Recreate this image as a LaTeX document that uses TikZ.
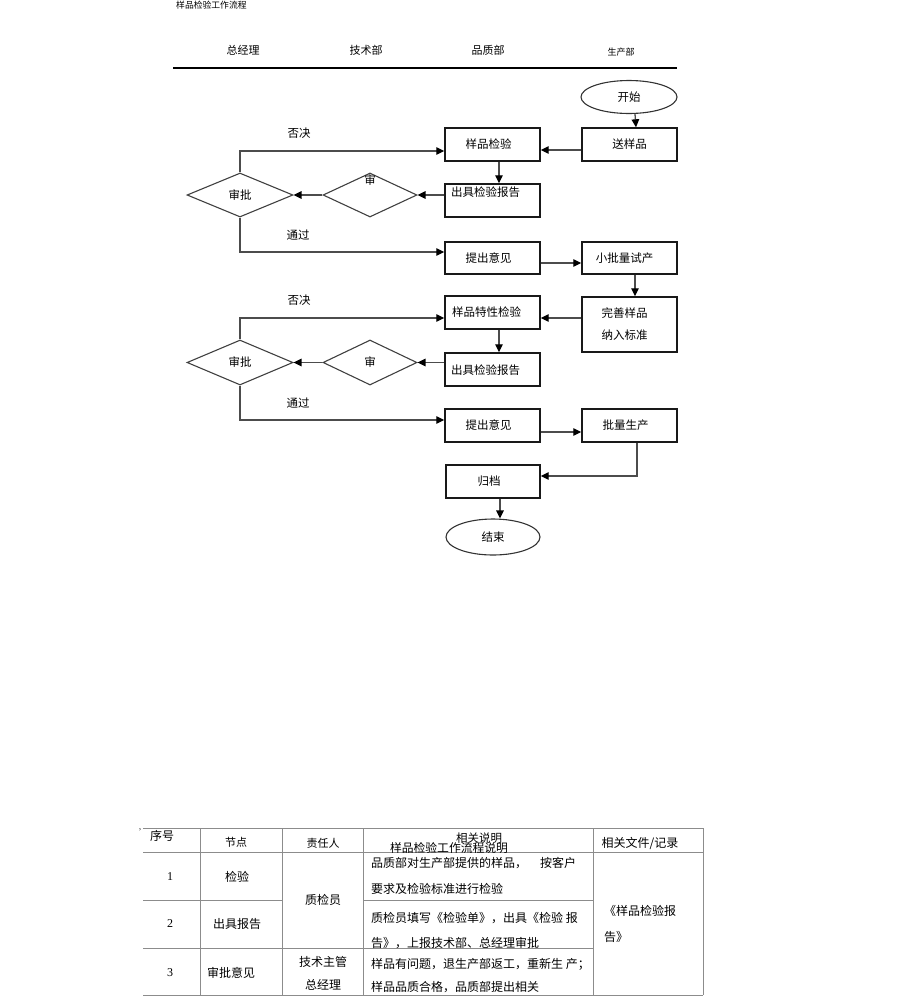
\documentclass[tikz,border=0pt]{standalone}
\usepackage{fontspec}
\setmainfont{Noto Sans CJK SC}
\newfontfamily\serifdig{Liberation Serif}
\usetikzlibrary{shapes.geometric,arrows.meta}
\begin{document}
\begin{tikzpicture}[x=1pt,y=-1pt,
  fl/.style={font=\fontsize{11.5}{13}\selectfont},
  box/.style={draw=black!90, line width=1.4pt, rectangle, minimum width=95pt, minimum height=33pt, inner sep=0pt, fl},
  oval/.style={draw=black!80, line width=1.1pt, ellipse, minimum width=95pt, minimum height=34pt, inner sep=0pt, fl},
  dia/.style={draw=black!75, line width=1.1pt, diamond, inner sep=0pt, fl},
  conn/.style={draw=black!70, line width=1.3pt, -{Triangle[length=8pt,width=7.5pt,color=black]}},
  lbl/.style={fl, inner sep=0pt},
  hdr/.style={font=\fontsize{11}{13}\selectfont, inner sep=0pt},
  tb/.style={font=\fontsize{12}{14}\selectfont, inner sep=0pt},
  tl/.style={draw=black!45, line width=0.8pt}
]
\useasboundingbox (0,0) rectangle (920,997);
% title and header
\node[font=\fontsize{8.8}{10}\selectfont, anchor=west, inner sep=0pt] (title) at (176,5) {样品检验工作流程};
\node[hdr] (h1) at (243,50) {总经理};
\node[hdr] (h2) at (366,50) {技术部};
\node[hdr] (h3) at (488,50) {品质部};
\node[font=\fontsize{9}{10}\selectfont, inner sep=0pt] (h4) at (621,52) {生产部};
\draw[line width=2.2pt] (173,68) -- (677,68);

% flow nodes
\node[oval, minimum width=96pt, minimum height=33pt] (start) at (629,97) {开始};
\node[box] (send) at (629.5,144.5) {送样品};
\node[box] (insp) at (492.5,144.5) {\hspace*{-8pt}样品检验};
\node[box] (rep1) at (492.5,200.5) {};
\node[lbl, anchor=west] (rep1t) at (451,192) {出具检验报告};
\node[dia, minimum width=94pt, minimum height=44pt] (dia1) at (370,195) {};
\node[lbl] (dia1t) at (370,180) {审};
\node[dia, minimum width=106pt, minimum height=44pt] (appr1) at (240,195) {审批};
\node[box, minimum height=32pt] (opin1) at (492.5,258) {\hspace*{-8pt}提出意见};
\node[box, minimum height=32pt] (trial) at (629.5,258) {\hspace*{-10pt}小批量试产};
\node[box, minimum height=55pt, align=left, font=\fontsize{11.5}{22}\selectfont] (perf) at (629.5,324.5) {\hspace*{-10pt}完善样品\\\hspace*{-10pt}纳入标准};
\node[box] (insp2) at (492.5,312.5) {\hspace*{-12pt}样品特性检验};
\node[box] (rep2) at (492.5,369.5) {};
\node[lbl, anchor=west] (rep2t) at (451,370) {出具检验报告};
\node[dia, minimum width=94pt, minimum height=45pt] (dia2) at (370,362.5) {审};
\node[dia, minimum width=106pt, minimum height=45pt] (appr2) at (240,362.5) {审批};
\node[box] (opin2) at (492.5,425.5) {\hspace*{-8pt}提出意见};
\node[box] (mass) at (629.5,425.5) {\hspace*{-8pt}批量生产};
\node[box, minimum width=94pt] (arch) at (493,481.5) {\hspace*{-8pt}归档};
\node[oval, minimum width=94pt, minimum height=36pt] (fin) at (493,537) {结束};

% edge labels
\node[lbl] (r1) at (299,133) {否决};
\node[lbl] (p1) at (298,235) {通过};
\node[lbl] (r2) at (299,300) {否决};
\node[lbl] (p2) at (298,403) {通过};

% connectors
\draw[conn] ([xshift=6pt]start.south) -- ([xshift=6.5pt]send.north);
\draw[conn] ([yshift=-5.5pt]send.west) -- ([yshift=-5.5pt]insp.east);
\draw[conn] ([xshift=6.5pt]insp.south) -- ([xshift=6.5pt]rep1.north);
\draw[conn] (rep1.west |- dia1.east) -- (dia1.east);
\draw[conn] (dia1.west) -- (appr1.east);
\draw[conn] (appr1.north) |- ([yshift=-6.5pt]insp.west);
\draw[conn] (appr1.south) |- ([yshift=6pt]opin1.west);
\draw[conn] ([yshift=-5pt]opin1.east) -- ([yshift=-5pt]trial.west);
\draw[conn] ([xshift=5.5pt]trial.south) -- ([xshift=5.5pt]perf.north);
\coordinate (c1) at ([yshift=-5.5pt]insp2.east);
\draw[conn] (perf.west |- c1) -- (c1);
\draw[conn] ([xshift=6.5pt]insp2.south) -- ([xshift=6.5pt]rep2.north);
\draw[conn] (rep2.west |- dia2.east) -- (dia2.east);
\draw[conn] (dia2.west) -- (appr2.east);
\draw[conn] (appr2.north) |- ([yshift=-5.5pt]insp2.west);
\draw[conn] (appr2.south) |- ([yshift=5.5pt]opin2.west);
\draw[conn] ([yshift=-6.5pt]opin2.east) -- ([yshift=-6.5pt]mass.west);
\draw[conn] ([xshift=7.5pt]mass.south) |- ([yshift=5.5pt]arch.east);
\draw[conn] ([xshift=7pt]arch.south) -- ([xshift=7pt]fin.north);

% table lines
\draw[tl] (143,828) -- (703,828);
\draw[tl] (143,852) -- (703,852);
\draw[tl] (143,900) -- (282,900);
\draw[tl] (363,900) -- (593,900);
\draw[tl] (143,948) -- (593,948);
\draw[tl] (143,995) -- (703,995);
\draw[tl] (200,828) -- (200,995);
\draw[tl] (282,828) -- (282,995);
\draw[tl] (363,828) -- (363,995);
\draw[tl] (593,828) -- (593,995);
\draw[tl] (703,828) -- (703,995);

% table text
\node[tb, font=\fontsize{8}{9}\selectfont] (q) at (143,832) {'};
\node[tb] (t0) at (162,836) {序号};
\node[tb, font=\fontsize{11}{13}\selectfont] (t1) at (236,842) {节点};
\node[tb, font=\fontsize{11}{13}\selectfont] (t2) at (323,843) {责任人};
\node[tb, font=\fontsize{11.5}{13}\selectfont] (t3) at (479,838) {相关说明};
\node[tb, font=\fontsize{11.8}{13}\selectfont] (t3b) at (449,848) {样品检验工作流程说明};
\node[tb] (t4) at (640,843) {相关文件/记录};

\node[tb, font=\serifdig\fontsize{12}{14}\selectfont] (n1) at (170,877) {1};
\node[tb, font=\serifdig\fontsize{12}{14}\selectfont] (n2) at (170,924) {2};
\node[tb, font=\serifdig\fontsize{12}{14}\selectfont] (n3) at (170,973) {3};
\node[tb] (k1) at (237,877) {检验};
\node[tb] (k2) at (237,924) {出具报告};
\node[tb] (k3) at (231,973) {审批意见};
\node[tb] (w1) at (323,900) {质检员};
\node[tb] (w2) at (323,962) {技术主管};
\node[tb] (w3) at (323,985) {总经理};

\node[tb, anchor=west] (d1a) at (371,863) {品质部对生产部提供的样品，};
\node[tb, anchor=west] (d1b) at (540,863) {按客户};
\node[tb, anchor=west] (d1c) at (371,889) {要求及检验标准进行检验};
\node[tb, anchor=west] (d2a) at (371,918) {质检员填写《检验单》，出具《检验 报};
\node[tb, anchor=west] (d2b) at (371,943) {告》，上报技术部、总经理审批};
\node[tb, anchor=west] (d3a) at (371,964) {样品有问题，退生产部返工，重新生 产；};
\node[tb, anchor=west] (d3b) at (371,987) {样品品质合格，品质部提出相关};
\node[tb, anchor=west] (f1) at (604,911) {《样品检验报};
\node[tb, anchor=west] (f2) at (604,937) {告》};
\end{tikzpicture}
\end{document}
